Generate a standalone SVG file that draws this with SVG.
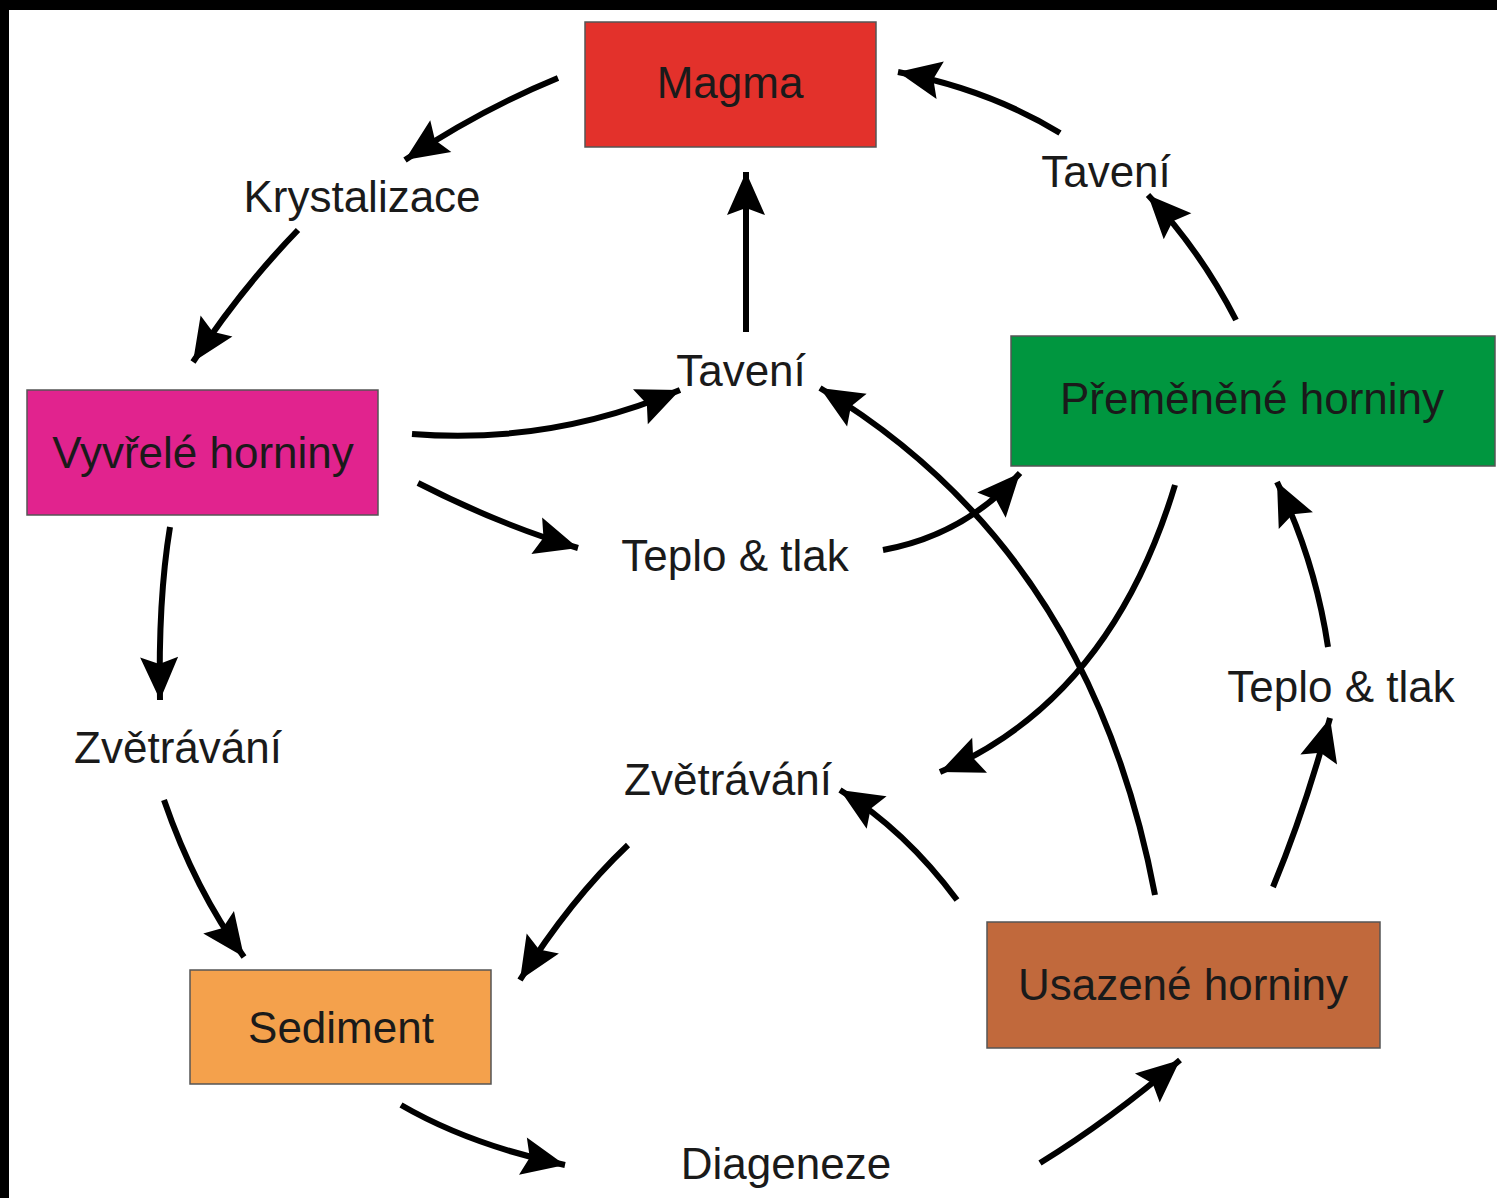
<svg xmlns="http://www.w3.org/2000/svg" width="1497" height="1198" viewBox="0 0 1497 1198">
<style>
.box{stroke:#555;stroke-width:1.5}
.t{font-family:"Liberation Sans",Arial,sans-serif;font-size:44px;fill:#1a1a1a;text-anchor:middle}
.c{fill:none;stroke:#000;stroke-width:6;stroke-linecap:butt}
</style>
<defs>
<marker id="ah" markerUnits="userSpaceOnUse" markerWidth="60" markerHeight="60" viewBox="-46 -30 50 60" refX="0" refY="0" orient="auto">
<path d="M0,0 L-43,-19 L-36,0 L-43,19 Z" fill="#000"/>
</marker>
</defs>
<rect x="0" y="0" width="1497" height="1198" fill="#fff"/>
<rect x="0" y="0" width="1497" height="10" fill="#000"/>
<rect x="0" y="0" width="9" height="1198" fill="#000"/>

<g id="magma"><rect class="box" x="585" y="22" width="291" height="125" fill="#e3312b"/><text class="t" x="730" y="98">Magma</text></g>
<g id="vyvrele"><rect class="box" x="27" y="390" width="351" height="125" fill="#e1238e"/><text class="t" x="203" y="468">Vyvřelé horniny</text></g>
<g id="premenene"><rect class="box" x="1011" y="336" width="484" height="130" fill="#00963f"/><text class="t" x="1252" y="414">Přeměněné horniny</text></g>
<g id="sediment"><rect class="box" x="190" y="970" width="301" height="114" fill="#f4a14c"/><text class="t" x="341" y="1043">Sediment</text></g>
<g id="usazene"><rect class="box" x="987" y="922" width="393" height="126" fill="#c1693c"/><text class="t" x="1183" y="1000">Usazené horniny</text></g>

<g id="labels">
<text class="t" x="362" y="212">Krystalizace</text>
<text class="t" x="1106" y="187">Tavení</text>
<text class="t" x="741" y="386">Tavení</text>
<text class="t" x="735" y="571">Teplo &amp; tlak</text>
<text class="t" x="1341" y="702">Teplo &amp; tlak</text>
<text class="t" x="178" y="763">Zvětrávání</text>
<text class="t" x="728" y="795">Zvětrávání</text>
<text class="t" x="786" y="1179">Diageneze</text>
</g>

<g id="connectors">
<path class="c" marker-end="url(#ah)" d="M558,78 Q480,110 405,160"/>
<path class="c" marker-end="url(#ah)" d="M298,230 Q240,290 193,362"/>
<path class="c" marker-end="url(#ah)" d="M746,332 L746,172"/>
<path class="c" marker-end="url(#ah)" d="M1060,133 Q990,90 898,72"/>
<path class="c" marker-end="url(#ah)" d="M1236,320 Q1200,250 1148,195"/>
<path class="c" marker-end="url(#ah)" d="M412,434 Q550,445 680,390"/>
<path class="c" marker-end="url(#ah)" d="M418,483 Q500,525 578,548"/>
<path class="c" marker-end="url(#ah)" d="M883,550 Q965,535 1020,473"/>
<path class="c" marker-end="url(#ah)" d="M1155,895 Q1090,550 820,388"/>
<path class="c" marker-end="url(#ah)" d="M1175,485 Q1110,700 940,772"/>
<path class="c" marker-end="url(#ah)" d="M957,900 Q905,830 840,790"/>
<path class="c" marker-end="url(#ah)" d="M1273,887 Q1305,810 1330,718"/>
<path class="c" marker-end="url(#ah)" d="M1328,647 Q1315,560 1277,482"/>
<path class="c" marker-end="url(#ah)" d="M170,527 Q158,600 160,700"/>
<path class="c" marker-end="url(#ah)" d="M164,800 Q195,890 244,957"/>
<path class="c" marker-end="url(#ah)" d="M628,845 Q570,900 520,980"/>
<path class="c" marker-end="url(#ah)" d="M401,1105 Q470,1145 565,1165"/>
<path class="c" marker-end="url(#ah)" d="M1040,1163 Q1110,1120 1180,1060"/>
</g>
</svg>
